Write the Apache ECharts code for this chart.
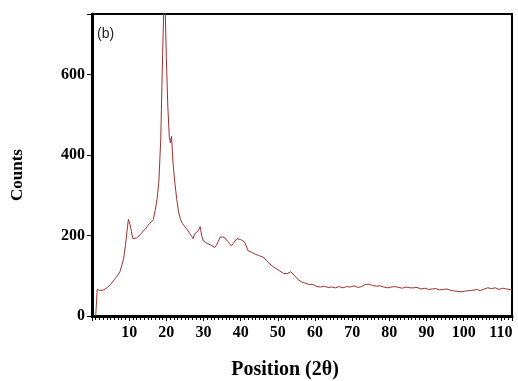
<!DOCTYPE html>
<html>
<head>
<meta charset="utf-8">
<script src="https://cdn.jsdelivr.net/npm/echarts@6/dist/echarts.min.js"></script>
<style>
  html, body { margin: 0; padding: 0; background: #ffffff; }
  #chart { width: 518px; height: 381px; }
</style>
</head>
<body>
<div id="chart"></div>
<script>
// XRD pattern: diffraction angle (2θ, degrees) and detector counts
const angles = [
  1.0, 1.3, 1.4, 2.0, 2.5, 3.0, 3.5, 4.0, 4.5, 5.0, 5.5, 6.0, 6.5, 7.0, 7.5, 8.0, 8.5, 9.0, 9.4, 9.8,
  10.2, 10.6, 11.0, 11.5, 12.0, 12.5, 13.0, 13.5, 14.0, 14.5, 15.0, 15.5, 16.0, 16.5, 17.0, 17.5, 18.0, 18.5, 19.0, 19.4,
  19.7, 20.0, 20.4, 20.8, 21.1, 21.4, 21.8, 22.3, 22.8, 23.3, 23.8, 24.3, 24.8, 25.3, 25.8, 26.3, 26.8, 27.2, 27.6, 28.2,
  28.7, 29.1, 29.5, 30.0, 30.5, 31.0, 31.5, 32.0, 32.5, 33.0, 33.5, 34.0, 34.5, 35.0, 35.5, 36.0, 36.5, 37.0, 37.5, 38.0,
  38.5, 39.0, 39.5, 40.0, 40.5, 41.0, 41.5, 42.0, 42.5, 43.0, 43.5, 44.0, 44.5, 45.0, 45.5, 46.0, 46.5, 47.0, 47.5, 48.0,
  48.5, 49.0, 49.5, 50.0, 50.5, 51.0, 51.5, 52.0, 52.5, 53.0, 53.5, 54.0, 54.5, 55.0, 55.5, 56.0, 56.5, 57.0, 57.5, 58.0,
  58.5, 59.0, 59.5, 60.0, 60.5, 61.0, 61.5, 62.0, 62.5, 63.0, 63.5, 64.0, 64.5, 65.0, 65.5, 66.0, 66.5, 67.0, 67.5, 68.0,
  68.5, 69.0, 69.5, 70.0, 70.5, 71.0, 71.5, 72.0, 72.5, 73.0, 73.5, 74.0, 74.5, 75.0, 75.5, 76.0, 76.5, 77.0, 77.5, 78.0,
  78.5, 79.0, 79.5, 80.0, 80.5, 81.0, 81.5, 82.0, 82.5, 83.0, 83.5, 84.0, 84.5, 85.0, 85.5, 86.0, 86.5, 87.0, 87.5, 88.0,
  88.5, 89.0, 89.5, 90.0, 90.5, 91.0, 91.5, 92.0, 92.5, 93.0, 93.5, 94.0, 94.5, 95.0, 95.5, 96.0, 96.5, 97.0, 97.5, 98.0,
  98.5, 99.0, 99.5, 100.0, 100.5, 101.0, 101.5, 102.0, 102.5, 103.0, 103.5, 104.0, 104.5, 105.0, 105.5, 106.0, 106.5, 107.0, 107.5, 108.0,
  108.5, 109.0, 109.5, 110.0, 110.5, 111.0, 111.5, 112.0, 112.5, 113.0
];
const counts = [
  0, 0, 66, 64, 65, 64, 66, 70, 72, 78, 84, 90, 96, 102, 110, 125, 142, 175, 210, 240,
  228, 210, 192, 188, 194, 192, 202, 208, 212, 218, 224, 230, 234, 240, 262, 290, 335, 440, 650, 790,
  760, 640, 520, 445, 430, 446, 380, 330, 290, 258, 240, 230, 224, 218, 212, 205, 198, 192, 204, 208,
  214, 222, 200, 186, 184, 180, 178, 176, 172, 170, 176, 186, 196, 200, 196, 194, 186, 180, 174, 180,
  184, 192, 190, 190, 186, 184, 174, 162, 160, 158, 156, 153, 152, 150, 148, 146, 145, 138, 132, 128,
  124, 120, 118, 116, 112, 108, 106, 104, 105, 108, 110, 108, 100, 96, 90, 86, 84, 82, 81, 80,
  78, 77, 78, 76, 73, 74, 72, 72, 74, 74, 71, 70, 72, 72, 70, 71, 73, 74, 70, 72,
  73, 76, 72, 73, 75, 74, 71, 70, 73, 76, 78, 78, 79, 77, 76, 76, 74, 74, 75, 73,
  72, 72, 70, 70, 72, 71, 73, 73, 71, 71, 69, 70, 72, 72, 70, 71, 70, 69, 71, 70,
  67, 68, 69, 67, 66, 68, 67, 66, 68, 67, 65, 68, 66, 65, 67, 66, 64, 64, 62, 63,
  61, 62, 60, 63, 62, 64, 63, 66, 64, 65, 66, 66, 63, 64, 67, 67, 70, 70, 68, 68,
  70, 69, 66, 67, 69, 69, 67, 68, 66, 66
];
const yTicks = [0, 200, 400, 600];
const xTicks = [10, 20, 30, 40, 50, 60, 70, 80, 90, 100, 110];

const serif = '"Liberation Serif", "Times New Roman", serif';
const chart = echarts.init(document.getElementById('chart'));

chart.setOption({
  animation: false,
  backgroundColor: '#ffffff',
  grid: {
    left: 92, right: 6, top: 14, bottom: 65,
    show: true, borderColor: '#000', borderWidth: 2, backgroundColor: 'transparent'
  },
  xAxis: {
    type: 'value',
    min: 0, max: 113, interval: 10,
    axisLine: { show: true, onZero: false, lineStyle: { color: '#000', width: 3 } },
    axisTick: { show: true, length: 5, inside: false, lineStyle: { color: '#000', width: 1 } },
    minorTick: { show: true, splitNumber: 10, length: 4, lineStyle: { color: '#000', width: 1 } },
    splitLine: { show: false },
    axisLabel: {
      margin: 9,
      fontFamily: serif, fontWeight: 'bold', fontSize: 16, color: '#000',
      formatter: v => (xTicks.includes(v) ? String(v) : '')
    }
  },
  yAxis: {
    type: 'value',
    min: 0, max: 750, interval: 200,
    axisLine: { show: true, lineStyle: { color: '#000', width: 3 } },
    axisTick: { show: true, length: 5, lineStyle: { color: '#000', width: 1 } },
    splitLine: { show: false },
    axisLabel: {
      margin: 7,
      fontFamily: serif, fontWeight: 'bold', fontSize: 16, color: '#000',
      formatter: v => (yTicks.includes(v) ? String(v) : '')
    }
  },
  graphic: [
    {
      type: 'text', left: 97, top: 27,
      style: { text: '(b)', font: '14px "Liberation Sans", Arial, sans-serif', fill: '#222' }
    },
    {
      type: 'text', x: 285, y: 370,
      style: {
        text: 'Position (2θ)', font: 'bold 20px ' + serif, fill: '#000',
        align: 'center', verticalAlign: 'middle'
      }
    },
    {
      type: 'text', x: 18, y: 175, rotation: Math.PI / 2,
      style: {
        text: 'Counts', font: 'bold 17px ' + serif, fill: '#000',
        align: 'center', verticalAlign: 'middle'
      }
    }
  ],
  series: [{
    type: 'line',
    data: angles.map((a, i) => [a, counts[i]]),
    showSymbol: false,
    clip: true,
    lineStyle: { color: '#a0302e', width: 1 },
    z: 1
  }]
});
</script>
</body>
</html>
